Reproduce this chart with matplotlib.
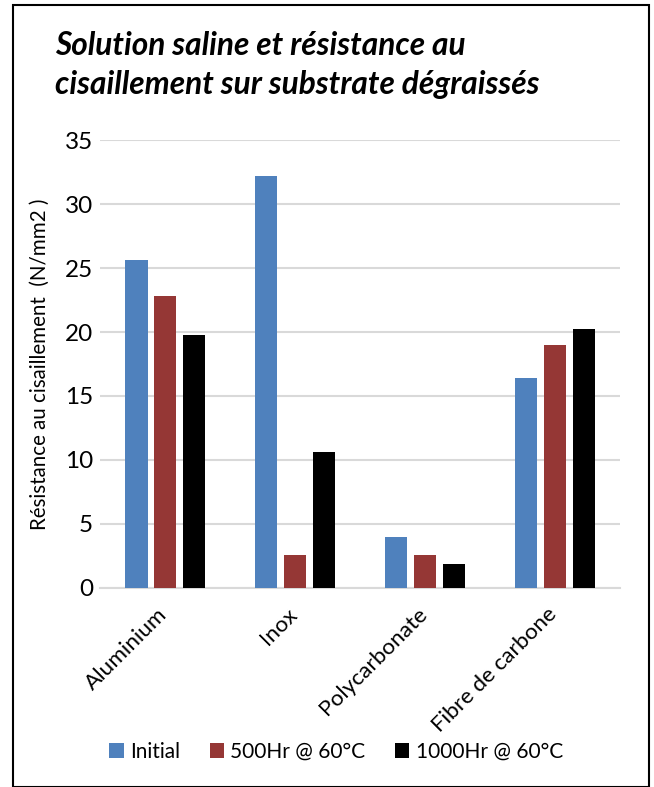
import numpy as np
import matplotlib.pyplot as plt
import matplotlib.transforms as mtransforms
from matplotlib.patches import Rectangle

materials = ['Aluminium', 'Inox', 'Polycarbonate', 'Fibre de carbone']
series_names = ['Initial', '500Hr @ 60°C', '1000Hr @ 60°C']
initial = [25.6, 32.2, 4.0, 16.4]
hr500 = [22.8, 2.6, 2.6, 19.0]
hr1000 = [19.8, 10.6, 1.85, 20.2]
colors = ['#4F81BD', '#953735', '#000000']

plt.rcParams['font.family'] = ['Lato', 'DejaVu Sans']

fig = plt.figure(figsize=(6.54, 7.87), dpi=100)
ax = fig.add_axes([0.153, 0.253, 0.795, 0.569])

x = np.arange(len(materials))
w = 0.17
step = 0.22
for i, (vals, name) in enumerate(zip([initial, hr500, hr1000], series_names)):
    ax.bar(x + (i - 1) * step, vals, width=w, color=colors[i], label=name,
           zorder=3)

ax.set_xlim(-0.5, len(materials) - 0.5)
ax.set_ylim(0, 35)
ax.set_yticks(range(0, 36, 5))
ax.yaxis.grid(True, color='#D9D9D9', linewidth=1.5, zorder=0)
for s in ['top', 'right', 'left']:
    ax.spines[s].set_visible(False)
ax.spines['bottom'].set_color('#D9D9D9')
ax.spines['bottom'].set_linewidth(1.5)
ax.tick_params(axis='y', length=0, labelsize=17.5, pad=5)
ax.tick_params(axis='x', length=0, pad=6)
ax.set_xticks(x)
ax.set_xticklabels(materials, rotation=45, ha='right', rotation_mode='anchor',
                   fontsize=16.2)
shift = mtransforms.ScaledTranslation(-0.08, -0.08, fig.dpi_scale_trans)
for lbl in ax.get_xticklabels():
    lbl.set_transform(lbl.get_transform() + shift)
ax.set_ylabel('Résistance au cisaillement  (N/mm2 )', fontsize=14.8, labelpad=11)

fig.text(0.084, 0.960, 'Solution saline et résistance au\ncisaillement sur substrate dégraissés',
         fontsize=22.8, fontweight='bold', fontstyle='italic', ha='left', va='top',
         linespacing=1.4)

fig.legend(loc='center', bbox_to_anchor=(0.514, 0.045), ncol=3, frameon=False,
           fontsize=15, handlelength=0.7, handleheight=0.7, handletextpad=0.3,
           columnspacing=1.4)

fig.patches.append(Rectangle((13 / 654, 0.0), 636 / 654, 1 - 4.5 / 787,
                             transform=fig.transFigure, fill=False,
                             edgecolor='black', linewidth=1.5))

fig.savefig('out.png', dpi=100)
